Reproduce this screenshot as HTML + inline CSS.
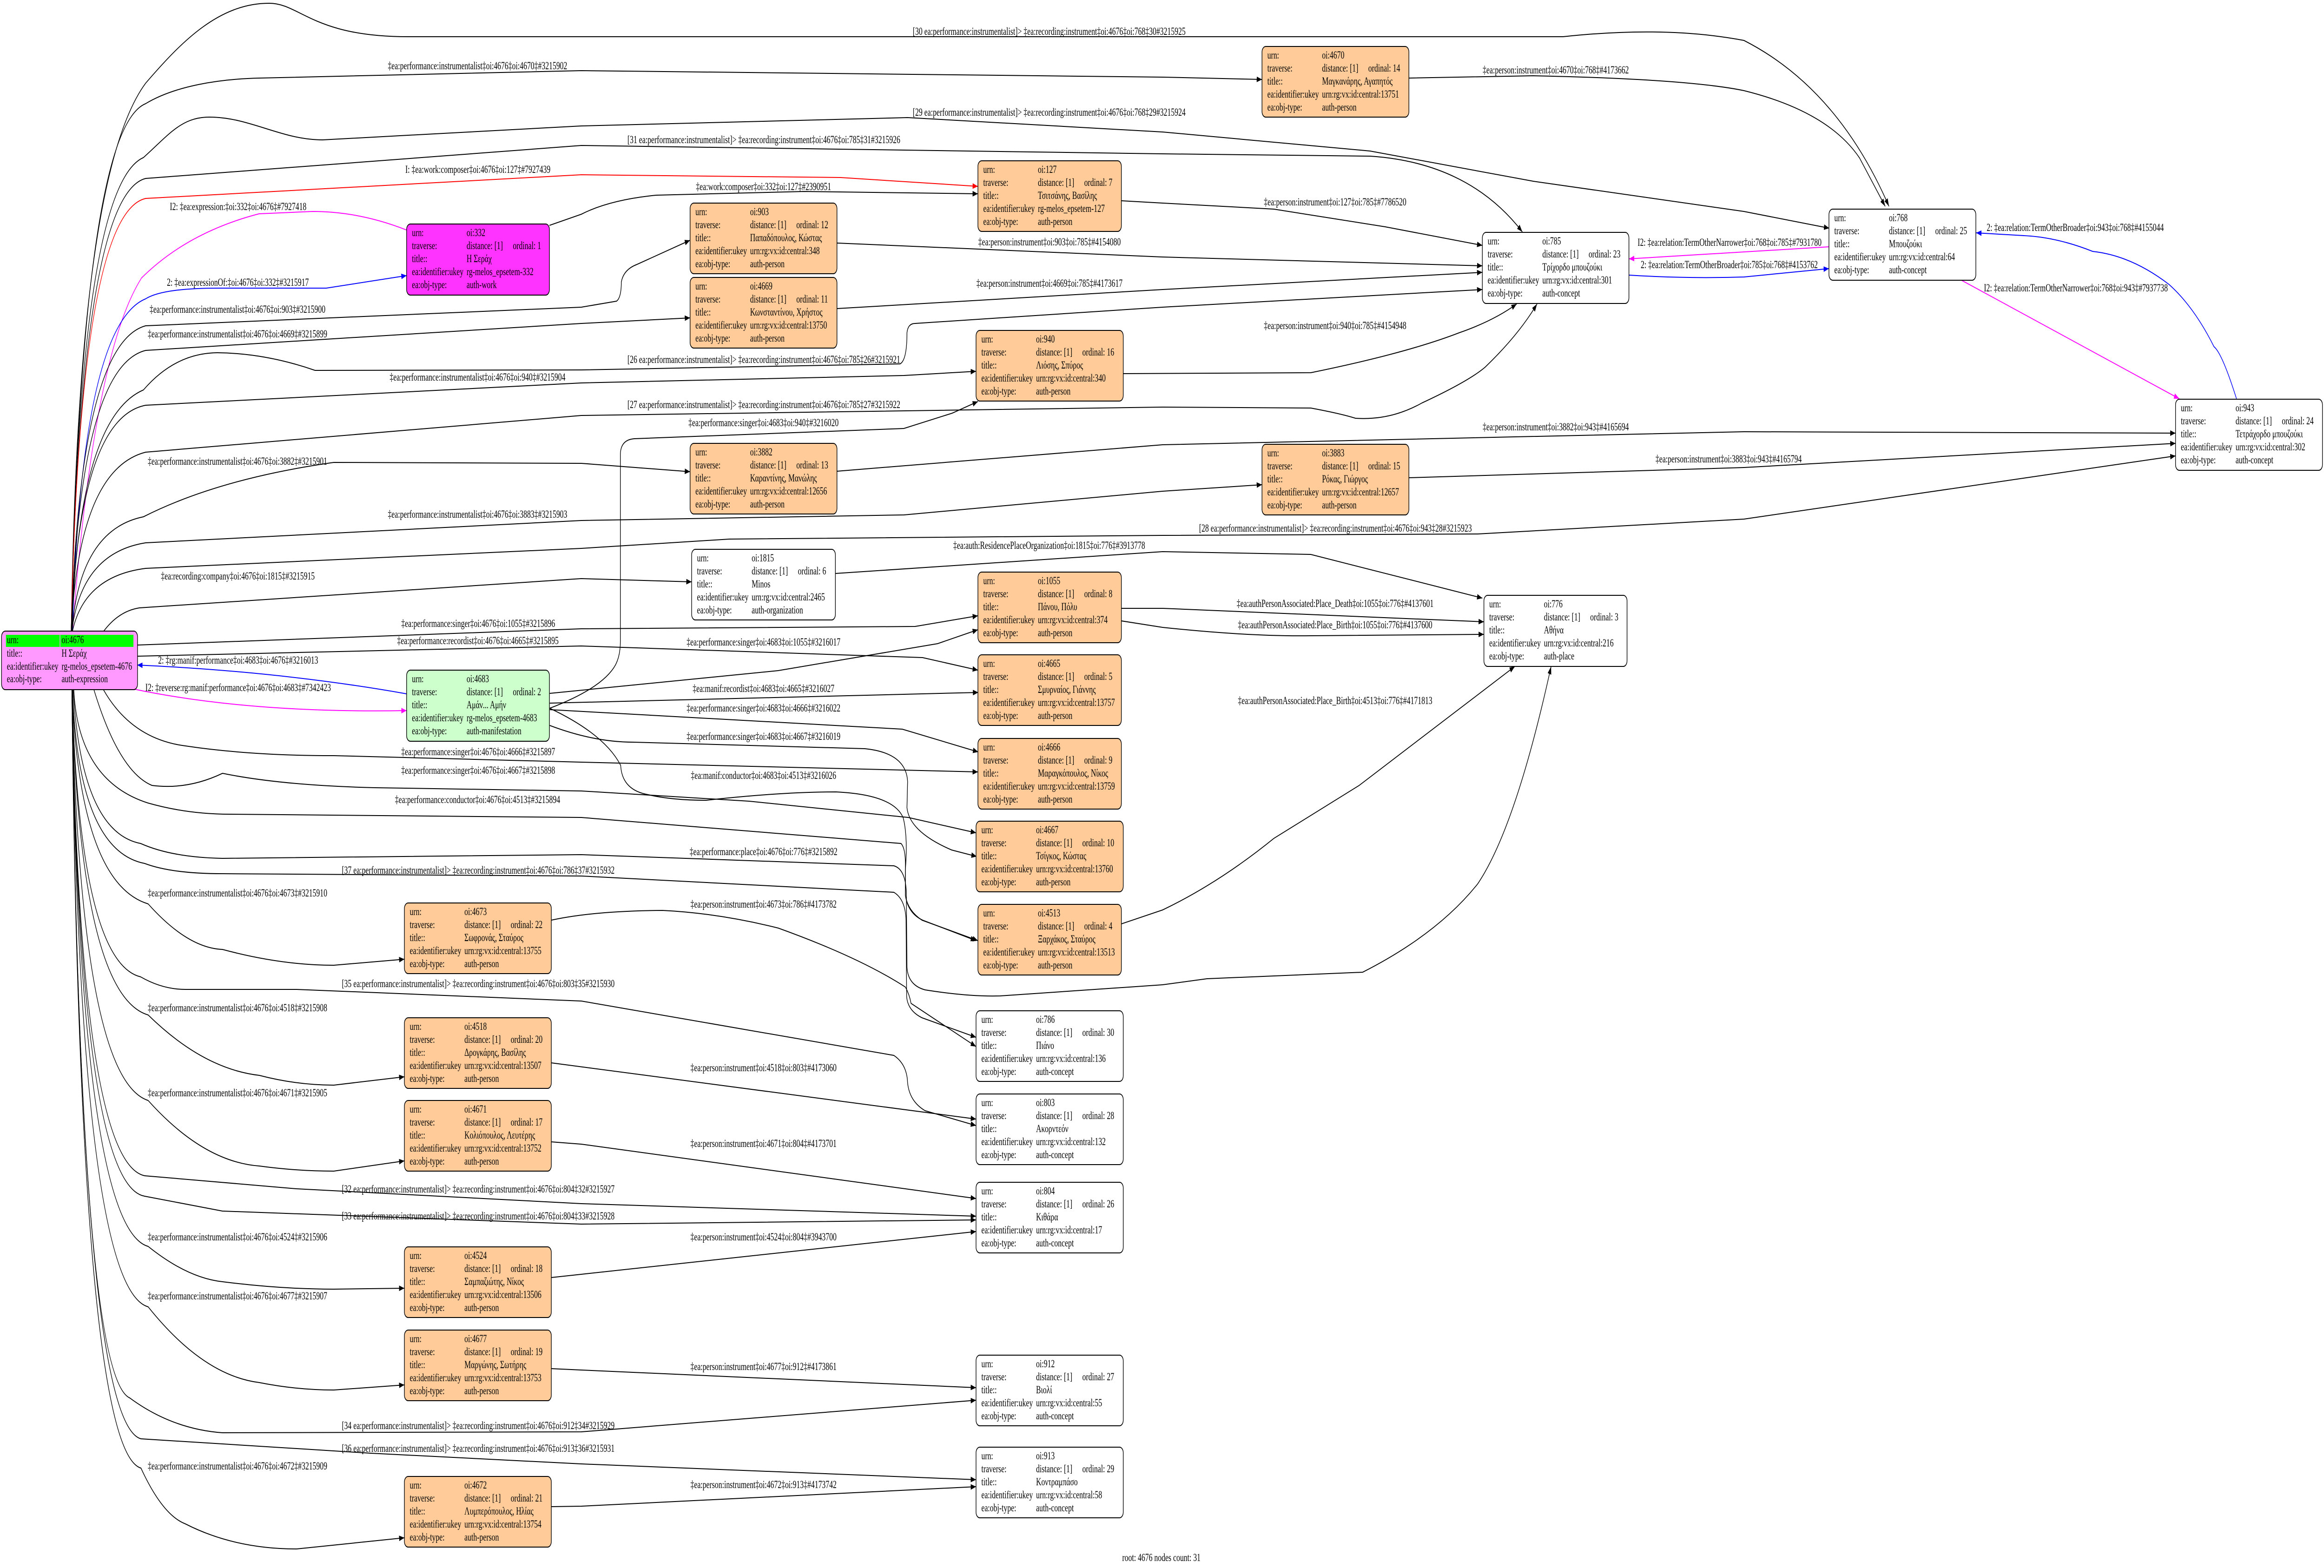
<!DOCTYPE html>
<html><head><meta charset="utf-8"><style>
html,body{margin:0;padding:0;background:#fff;overflow:hidden;width:100%;height:100%;}
svg.root{display:block;width:100vw;height:100vh;overflow:hidden;}
.f{font-family:"Liberation Serif","DejaVu Serif",serif;font-size:23.4px;fill:#000;}
.m{text-anchor:middle;}
.e{fill:none;stroke-width:2;}
.k{stroke:#000;}.r{stroke:#f00;}.b{stroke:#00f;}.g{stroke:#f0f;}
.n{stroke:#000;stroke-width:2;}
</style></head><body>
<svg class="root" viewBox="0 0 7436 3374" preserveAspectRatio="none" xmlns="http://www.w3.org/2000/svg">
<defs>
<marker id="ak" markerUnits="userSpaceOnUse" markerWidth="17" markerHeight="12" refX="17" refY="6" orient="auto"><polygon points="0,0 17,6 0,12" fill="#000"/></marker>
<marker id="ar" markerUnits="userSpaceOnUse" markerWidth="17" markerHeight="12" refX="17" refY="6" orient="auto"><polygon points="0,0 17,6 0,12" fill="#f00"/></marker>
<marker id="ab" markerUnits="userSpaceOnUse" markerWidth="17" markerHeight="12" refX="17" refY="6" orient="auto"><polygon points="0,0 17,6 0,12" fill="#00f"/></marker>
<marker id="ag" markerUnits="userSpaceOnUse" markerWidth="17" markerHeight="12" refX="17" refY="6" orient="auto"><polygon points="0,0 17,6 0,12" fill="#f0f"/></marker>
</defs>
<rect x="0" y="0" width="7436" height="3374" fill="#fff"/>

<!-- EDGES -->
<g>
<path class="e k" marker-end="url(#ak)" d="M228,1358 C240,800 300,330 466,179 C580,90 700,7 861,7 C960,7 1000,79 1305,79 L5001,79 Q5330,55 5580,87 Q5880,190 6044,444"/>
<path class="e k" marker-end="url(#ak)" d="M228,1358 Q262,280 466,223 C560,185 700,170 830,168 L1860,152 L3720,166 L4038,171"/>
<path class="e k" marker-end="url(#ak)" d="M228,1358 Q255,400 459,339 C540,290 580,252 670,252 C800,252 900,301 1032,301 L1860,271 L2904,253 L3720,284 L4384,325 L4906,390 L5580,455 L5853,491"/>
<path class="e k" marker-end="url(#ak)" d="M228,1358 Q258,420 466,384 L1860,313 L3720,331 L4384,336 Q4700,350 4871,499"/>
<path class="e r" marker-end="url(#ar)" d="M228,1358 Q255,460 466,427 L1860,376 L2690,382 L3129,401"/>
<path class="e k" marker-end="url(#ak)" d="M1758,485 L1860,461 Q1950,430 2100,420 L2572,412 L3129,417"/>
<path class="e g" d="M1301,495 Q1150,455 1000,455 L829,460 Q600,500 453,598 Q300,760 232,1358"/>
<path class="e b" marker-end="url(#ab)" d="M232,1358 Q260,700 466,643 Q520,620 700,620 L1044,620 L1301,593"/>
<path class="e k" marker-end="url(#ak)" d="M228,1358 Q255,740 466,701 L1860,661 L1973,648 Q1988,640 1988,607 Q1995,580 2038,569 L2208,517"/>
<path class="e k" marker-end="url(#ak)" d="M228,1358 Q255,790 466,754 L1860,696 L2208,684"/>
<path class="e k" marker-end="url(#ak)" d="M230,1358 Q250,900 459,839 Q560,760 695,759 Q850,760 1008,797 L1860,796 L2880,783 Q2902,775 2902,716 Q2905,696 2928,696 L3720,661 L4743,623"/>
<path class="e k" marker-end="url(#ak)" d="M228,1358 Q252,1010 466,973 L1860,894 L3720,876 L4194,878 Q4290,890 4337,900 Q4450,905 4550,867 Q4700,820 4752,790 Q4860,720 4918,654"/>
<path class="e k" marker-end="url(#ak)" d="M228,1358 Q252,900 466,872 L1860,824 L2892,808 L3123,799"/>
<path class="e k" marker-end="url(#ak)" d="M230,1358 Q255,1140 459,1112 Q700,1030 1068,995 L1860,997 L2208,1015"/>
<path class="e k" marker-end="url(#ak)" d="M230,1358 Q260,1190 466,1168 L1860,1120 L2892,1108 L3720,1057 L4038,1043"/>
<path class="e k" marker-end="url(#ak)" d="M232,1358 Q270,1240 466,1223 L1860,1180 L2334,1160 L3720,1152 L4728,1149 L5580,1117 L6961,981"/>
<path class="e k" marker-end="url(#ak)" d="M332,1358 Q380,1315 446,1308 L1860,1245 L2213,1252"/>
<path class="e k" marker-end="url(#ak)" d="M439,1388 L1860,1353 L2928,1348 L3129,1325"/>
<path class="e k" marker-end="url(#ak)" d="M439,1412 L1860,1390 L2952,1415 L3129,1442"/>
<path class="e b" marker-end="url(#ab)" d="M1301,1493 Q900,1445 439,1431"/>
<path class="e g" marker-end="url(#ag)" d="M430,1483 Q800,1535 1301,1529"/>
<path class="e k" marker-end="url(#ak)" d="M330,1483 Q420,1590 593,1605 Q800,1626 1068,1626 L1860,1640 L3129,1661"/>
<path class="e k" marker-end="url(#ak)" d="M300,1483 Q380,1660 486,1690 Q600,1700 712,1664 Q900,1690 1200,1695 L1860,1702 L2397,1724 L2906,1759 L3123,1792"/>
<path class="e k" marker-end="url(#ak)" d="M236,1483 Q250,1680 474,1728 Q600,1752 735,1752 L1860,1759 L2883,1815 Q2897,1825 2897,1860 L2897,1927 Q2905,1960 2950,1980 L3129,2024"/>
<path class="e k" marker-end="url(#ak)" d="M234,1483 Q260,1790 450,1815 Q550,1845 712,1847 L1860,1839 L2860,1863 Q2897,1870 2900,1920 L2902,2081 Q2905,2120 2960,2130 Q3100,2145 3200,2143 L3720,2119 L3862,2106 L4360,2092 Q4600,2010 4728,1902 Q4850,1780 4963,1434"/>
<path class="e k" marker-end="url(#ak)" d="M232,1483 Q250,1830 463,1858 Q550,1880 712,1880 L1860,1885 L2860,1920 Q2897,1935 2899,1980 L2901,2145 Q2905,2175 2950,2190 L3123,2232"/>
<path class="e k" marker-end="url(#ak)" d="M230,1483 Q255,1900 474,1945 Q600,2040 712,2043 Q900,2077 1068,2077 L1294,2064"/>
<path class="e k" marker-end="url(#ak)" d="M230,1483 Q255,2070 450,2102 Q520,2129 593,2129 L949,2129 L1860,2154 L2860,2271 Q2902,2290 2904,2330 Q2910,2370 2960,2390 L3123,2422"/>
<path class="e k" marker-end="url(#ak)" d="M230,1483 Q255,2140 474,2184 Q650,2300 830,2314 Q950,2335 1068,2335 L1294,2317"/>
<path class="e k" marker-end="url(#ak)" d="M230,1483 Q255,2320 474,2368 Q650,2500 830,2509 Q950,2520 1068,2520 L1294,2498"/>
<path class="e k" marker-end="url(#ak)" d="M230,1483 Q255,2500 463,2530 L949,2558 L1860,2590 L3123,2617"/>
<path class="e k" marker-end="url(#ak)" d="M230,1483 Q255,2550 463,2574 L712,2606 L1860,2634 L3123,2625"/>
<path class="e k" marker-end="url(#ak)" d="M230,1483 Q255,2640 474,2682 Q600,2750 712,2758 Q900,2774 1068,2774 L1294,2772"/>
<path class="e k" marker-end="url(#ak)" d="M230,1483 Q255,2770 474,2812 Q650,2960 830,2975 Q950,2991 1068,2991 L1294,2980"/>
<path class="e k" marker-end="url(#ak)" d="M230,1483 Q255,2960 415,3008 Q550,3075 712,3083 L1860,3081 L3123,3013"/>
<path class="e k" marker-end="url(#ak)" d="M230,1483 Q255,3060 451,3096 L1186,3127 L1860,3150 L3123,3184"/>
<path class="e k" marker-end="url(#ak)" d="M230,1483 Q255,3120 451,3159 Q520,3260 593,3279 Q750,3333 949,3333 L1294,3309"/>
<path class="e k" marker-end="url(#ak)" d="M1759,1524 Q1930,1480 1970,1430 Q1985,1410 1985,1380 L1985,976 Q1987,946 2030,944 L2892,922 L3047,889 L3129,864"/>
<path class="e k" marker-end="url(#ak)" d="M1759,1492 L2490,1443 L3000,1385 L3129,1355"/>
<path class="e k" marker-end="url(#ak)" d="M1759,1513 L3130,1490"/>
<path class="e k" marker-end="url(#ak)" d="M1759,1527 L2887,1569 L3130,1618"/>
<path class="e k" marker-end="url(#ak)" d="M1759,1561 Q1900,1597 2027,1597 L2767,1611 Q2900,1620 2904,1682 L2902,1738 Q2910,1790 3045,1829 L3125,1843"/>
<path class="e k" marker-end="url(#ak)" d="M1759,1524 Q1935,1580 1986,1647 Q1990,1700 2074,1710 Q2150,1722 2259,1722 Q2500,1704 2675,1704 Q2860,1710 2890,1760 Q2905,1800 2897,1871 L2897,1927 Q2905,1965 2952,1980 L3123,2024"/>
<path class="e k" marker-end="url(#ak)" d="M2678,523 L3720,553 L4743,572"/>
<path class="e k" marker-end="url(#ak)" d="M2678,664 L3720,623 L4743,586"/>
<path class="e k" marker-end="url(#ak)" d="M3588,432 L3720,437 L4076,450 L4432,488 L4743,528"/>
<path class="e k" marker-end="url(#ak)" d="M3594,804 L4194,802 Q4500,760 4669,716 Q4780,690 4853,654"/>
<path class="e k" marker-end="url(#ak)" d="M4508,168 L4906,163 Q5400,170 5580,195 Q5850,240 5950,340 L6032,444"/>
<path class="e k" marker-end="url(#ak)" d="M2678,1014 L3720,957 L5580,929 L6961,932"/>
<path class="e k" marker-end="url(#ak)" d="M4508,1028 L5580,1006 L6961,954"/>
<path class="e k" marker-end="url(#ak)" d="M2673,1234 L3720,1187 L4194,1193 L4743,1287"/>
<path class="e k" marker-end="url(#ak)" d="M3588,1309 L3720,1309 L4748,1338"/>
<path class="e k" marker-end="url(#ak)" d="M3588,1336 L3720,1350 Q4000,1370 4194,1368 L4748,1365"/>
<path class="e k" marker-end="url(#ak)" d="M3588,1988 L3720,1958 Q3900,1900 4076,1804 L4349,1690 L4847,1434"/>
<path class="e k" marker-end="url(#ak)" d="M1764,1980 Q1900,1960 2120,1959 Q2300,1965 2490,1997 Q2750,2060 2897,2124 Q2910,2140 2915,2159 L3123,2252"/>
<path class="e k" marker-end="url(#ak)" d="M1764,2287 L3123,2408"/>
<path class="e k" marker-end="url(#ak)" d="M1764,2457 L1860,2462 L3123,2579"/>
<path class="e k" marker-end="url(#ak)" d="M1764,2749 L1860,2742 L3123,2650"/>
<path class="e k" marker-end="url(#ak)" d="M1764,2945 L1860,2948 L3123,2986"/>
<path class="e k" marker-end="url(#ak)" d="M1764,3242 L1860,3241 L3123,3199"/>
<path class="e g" marker-end="url(#ag)" d="M5853,531 L5212,557"/>
<path class="e b" marker-end="url(#ab)" d="M5212,592 Q5400,600 5580,596 L5852,578"/>
<path class="e b" marker-end="url(#ab)" d="M7156,858 Q7110,760 7084,746 Q7020,660 6940,612 Q6820,550 6696,541 Q6580,510 6475,507 L6323,501"/>
<path class="e g" marker-end="url(#ag)" d="M6276,603 L6973,858"/>
</g>

<!-- NODES -->
<g class="f">
<g transform="translate(5,1358)"><rect class="n" width="435" height="126" rx="12" fill="#ff99ff"/>
<rect x="14" y="8" width="172" height="26" fill="#00ff00"/><rect x="188" y="8" width="234" height="26" fill="#00ff00"/>
<text x="17" y="26">urn:</text><text x="192" y="26">oi:4676</text>
<text x="17" y="55">title::</text><text x="192" y="55">Η Σεράχ</text>
<text x="17" y="83">ea:identifier:ukey</text><text x="192" y="83">rg-melos_epsetem-4676</text>
<text x="17" y="110">ea:obj-type:</text><text x="192" y="110">auth-expression</text></g>

<g transform="translate(1301,482)"><rect class="n" width="457" height="153" rx="12" fill="#ff33ff"/>
<text x="17" y="26">urn:</text><text x="192" y="26">oi:332</text>
<text x="17" y="54">traverse:</text><text x="192" y="54">distance: [1]</text><text x="340" y="54">ordinal: 1</text>
<text x="17" y="82">title::</text><text x="192" y="82">Η Σεράχ</text>
<text x="17" y="110">ea:identifier:ukey</text><text x="192" y="110">rg-melos_epsetem-332</text>
<text x="17" y="138">ea:obj-type:</text><text x="192" y="138">auth-work</text></g>

<g transform="translate(1301,1442)"><rect class="n" width="457" height="153" rx="12" fill="#ccffcc"/>
<text x="17" y="26">urn:</text><text x="192" y="26">oi:4683</text>
<text x="17" y="54">traverse:</text><text x="192" y="54">distance: [1]</text><text x="340" y="54">ordinal: 2</text>
<text x="17" y="82">title::</text><text x="192" y="82">Αμάν... Αμήν</text>
<text x="17" y="110">ea:identifier:ukey</text><text x="192" y="110">rg-melos_epsetem-4683</text>
<text x="17" y="138">ea:obj-type:</text><text x="192" y="138">auth-manifestation</text></g>

<g transform="translate(1294,1943)"><rect class="n" width="470" height="152" rx="12" fill="#ffcc99"/>
<text x="17" y="26">urn:</text><text x="192" y="26">oi:4673</text>
<text x="17" y="54">traverse:</text><text x="192" y="54">distance: [1]</text><text x="340" y="54">ordinal: 22</text>
<text x="17" y="82">title::</text><text x="192" y="82">Σωφρονάς, Σταύρος</text>
<text x="17" y="110">ea:identifier:ukey</text><text x="192" y="110">urn:rg:vx:id:central:13755</text>
<text x="17" y="138">ea:obj-type:</text><text x="192" y="138">auth-person</text></g>

<g transform="translate(1294,2190)"><rect class="n" width="470" height="152" rx="12" fill="#ffcc99"/>
<text x="17" y="26">urn:</text><text x="192" y="26">oi:4518</text>
<text x="17" y="54">traverse:</text><text x="192" y="54">distance: [1]</text><text x="340" y="54">ordinal: 20</text>
<text x="17" y="82">title::</text><text x="192" y="82">Δρογκάρης, Βασίλης</text>
<text x="17" y="110">ea:identifier:ukey</text><text x="192" y="110">urn:rg:vx:id:central:13507</text>
<text x="17" y="138">ea:obj-type:</text><text x="192" y="138">auth-person</text></g>

<g transform="translate(1294,2368)"><rect class="n" width="470" height="152" rx="12" fill="#ffcc99"/>
<text x="17" y="26">urn:</text><text x="192" y="26">oi:4671</text>
<text x="17" y="54">traverse:</text><text x="192" y="54">distance: [1]</text><text x="340" y="54">ordinal: 17</text>
<text x="17" y="82">title::</text><text x="192" y="82">Κολιόπουλος, Λευτέρης</text>
<text x="17" y="110">ea:identifier:ukey</text><text x="192" y="110">urn:rg:vx:id:central:13752</text>
<text x="17" y="138">ea:obj-type:</text><text x="192" y="138">auth-person</text></g>

<g transform="translate(1294,2683)"><rect class="n" width="470" height="152" rx="12" fill="#ffcc99"/>
<text x="17" y="26">urn:</text><text x="192" y="26">oi:4524</text>
<text x="17" y="54">traverse:</text><text x="192" y="54">distance: [1]</text><text x="340" y="54">ordinal: 18</text>
<text x="17" y="82">title::</text><text x="192" y="82">Σαμπαζιώτης, Νίκος</text>
<text x="17" y="110">ea:identifier:ukey</text><text x="192" y="110">urn:rg:vx:id:central:13506</text>
<text x="17" y="138">ea:obj-type:</text><text x="192" y="138">auth-person</text></g>

<g transform="translate(1294,2862)"><rect class="n" width="470" height="152" rx="12" fill="#ffcc99"/>
<text x="17" y="26">urn:</text><text x="192" y="26">oi:4677</text>
<text x="17" y="54">traverse:</text><text x="192" y="54">distance: [1]</text><text x="340" y="54">ordinal: 19</text>
<text x="17" y="82">title::</text><text x="192" y="82">Μαργώνης, Σωτήρης</text>
<text x="17" y="110">ea:identifier:ukey</text><text x="192" y="110">urn:rg:vx:id:central:13753</text>
<text x="17" y="138">ea:obj-type:</text><text x="192" y="138">auth-person</text></g>

<g transform="translate(1294,3177)"><rect class="n" width="470" height="152" rx="12" fill="#ffcc99"/>
<text x="17" y="26">urn:</text><text x="192" y="26">oi:4672</text>
<text x="17" y="54">traverse:</text><text x="192" y="54">distance: [1]</text><text x="340" y="54">ordinal: 21</text>
<text x="17" y="82">title::</text><text x="192" y="82">Λυμπερόπουλος, Ηλίας</text>
<text x="17" y="110">ea:identifier:ukey</text><text x="192" y="110">urn:rg:vx:id:central:13754</text>
<text x="17" y="138">ea:obj-type:</text><text x="192" y="138">auth-person</text></g>

<g transform="translate(2208,437)"><rect class="n" width="470" height="152" rx="12" fill="#ffcc99"/>
<text x="17" y="26">urn:</text><text x="192" y="26">oi:903</text>
<text x="17" y="54">traverse:</text><text x="192" y="54">distance: [1]</text><text x="340" y="54">ordinal: 12</text>
<text x="17" y="82">title::</text><text x="192" y="82">Παπαδόπουλος, Κώστας</text>
<text x="17" y="110">ea:identifier:ukey</text><text x="192" y="110">urn:rg:vx:id:central:348</text>
<text x="17" y="138">ea:obj-type:</text><text x="192" y="138">auth-person</text></g>

<g transform="translate(2208,597)"><rect class="n" width="470" height="152" rx="12" fill="#ffcc99"/>
<text x="17" y="26">urn:</text><text x="192" y="26">oi:4669</text>
<text x="17" y="54">traverse:</text><text x="192" y="54">distance: [1]</text><text x="340" y="54">ordinal: 11</text>
<text x="17" y="82">title::</text><text x="192" y="82">Κωνσταντίνου, Χρήστος</text>
<text x="17" y="110">ea:identifier:ukey</text><text x="192" y="110">urn:rg:vx:id:central:13750</text>
<text x="17" y="138">ea:obj-type:</text><text x="192" y="138">auth-person</text></g>

<g transform="translate(2208,954)"><rect class="n" width="470" height="152" rx="12" fill="#ffcc99"/>
<text x="17" y="26">urn:</text><text x="192" y="26">oi:3882</text>
<text x="17" y="54">traverse:</text><text x="192" y="54">distance: [1]</text><text x="340" y="54">ordinal: 13</text>
<text x="17" y="82">title::</text><text x="192" y="82">Καραντίνης, Μανώλης</text>
<text x="17" y="110">ea:identifier:ukey</text><text x="192" y="110">urn:rg:vx:id:central:12656</text>
<text x="17" y="138">ea:obj-type:</text><text x="192" y="138">auth-person</text></g>

<g transform="translate(2213,1182)"><rect class="n" width="460" height="152" rx="12" fill="#ffffff"/>
<text x="17" y="26">urn:</text><text x="192" y="26">oi:1815</text>
<text x="17" y="54">traverse:</text><text x="192" y="54">distance: [1]</text><text x="340" y="54">ordinal: 6</text>
<text x="17" y="82">title::</text><text x="192" y="82">Minos</text>
<text x="17" y="110">ea:identifier:ukey</text><text x="192" y="110">urn:rg:vx:id:central:2465</text>
<text x="17" y="138">ea:obj-type:</text><text x="192" y="138">auth-organization</text></g>

<g transform="translate(3129,346)"><rect class="n" width="459" height="152" rx="12" fill="#ffcc99"/>
<text x="17" y="26">urn:</text><text x="192" y="26">oi:127</text>
<text x="17" y="54">traverse:</text><text x="192" y="54">distance: [1]</text><text x="340" y="54">ordinal: 7</text>
<text x="17" y="82">title::</text><text x="192" y="82">Τσιτσάνης, Βασίλης</text>
<text x="17" y="110">ea:identifier:ukey</text><text x="192" y="110">rg-melos_epsetem-127</text>
<text x="17" y="138">ea:obj-type:</text><text x="192" y="138">auth-person</text></g>

<g transform="translate(3123,711)"><rect class="n" width="471" height="152" rx="12" fill="#ffcc99"/>
<text x="17" y="26">urn:</text><text x="192" y="26">oi:940</text>
<text x="17" y="54">traverse:</text><text x="192" y="54">distance: [1]</text><text x="340" y="54">ordinal: 16</text>
<text x="17" y="82">title::</text><text x="192" y="82">Λιόσης, Σπύρος</text>
<text x="17" y="110">ea:identifier:ukey</text><text x="192" y="110">urn:rg:vx:id:central:340</text>
<text x="17" y="138">ea:obj-type:</text><text x="192" y="138">auth-person</text></g>

<g transform="translate(3129,1231)"><rect class="n" width="459" height="152" rx="12" fill="#ffcc99"/>
<text x="17" y="26">urn:</text><text x="192" y="26">oi:1055</text>
<text x="17" y="54">traverse:</text><text x="192" y="54">distance: [1]</text><text x="340" y="54">ordinal: 8</text>
<text x="17" y="82">title::</text><text x="192" y="82">Πάνου, Πόλυ</text>
<text x="17" y="110">ea:identifier:ukey</text><text x="192" y="110">urn:rg:vx:id:central:374</text>
<text x="17" y="138">ea:obj-type:</text><text x="192" y="138">auth-person</text></g>

<g transform="translate(3129,1409)"><rect class="n" width="459" height="152" rx="12" fill="#ffcc99"/>
<text x="17" y="26">urn:</text><text x="192" y="26">oi:4665</text>
<text x="17" y="54">traverse:</text><text x="192" y="54">distance: [1]</text><text x="340" y="54">ordinal: 5</text>
<text x="17" y="82">title::</text><text x="192" y="82">Σμυρναίος, Γιάννης</text>
<text x="17" y="110">ea:identifier:ukey</text><text x="192" y="110">urn:rg:vx:id:central:13757</text>
<text x="17" y="138">ea:obj-type:</text><text x="192" y="138">auth-person</text></g>

<g transform="translate(3129,1589)"><rect class="n" width="459" height="152" rx="12" fill="#ffcc99"/>
<text x="17" y="26">urn:</text><text x="192" y="26">oi:4666</text>
<text x="17" y="54">traverse:</text><text x="192" y="54">distance: [1]</text><text x="340" y="54">ordinal: 9</text>
<text x="17" y="82">title::</text><text x="192" y="82">Μαραγκόπουλος, Νίκος</text>
<text x="17" y="110">ea:identifier:ukey</text><text x="192" y="110">urn:rg:vx:id:central:13759</text>
<text x="17" y="138">ea:obj-type:</text><text x="192" y="138">auth-person</text></g>

<g transform="translate(3123,1767)"><rect class="n" width="471" height="152" rx="12" fill="#ffcc99"/>
<text x="17" y="26">urn:</text><text x="192" y="26">oi:4667</text>
<text x="17" y="54">traverse:</text><text x="192" y="54">distance: [1]</text><text x="340" y="54">ordinal: 10</text>
<text x="17" y="82">title::</text><text x="192" y="82">Τσίγκος, Κώστας</text>
<text x="17" y="110">ea:identifier:ukey</text><text x="192" y="110">urn:rg:vx:id:central:13760</text>
<text x="17" y="138">ea:obj-type:</text><text x="192" y="138">auth-person</text></g>

<g transform="translate(3129,1946)"><rect class="n" width="459" height="152" rx="12" fill="#ffcc99"/>
<text x="17" y="26">urn:</text><text x="192" y="26">oi:4513</text>
<text x="17" y="54">traverse:</text><text x="192" y="54">distance: [1]</text><text x="340" y="54">ordinal: 4</text>
<text x="17" y="82">title::</text><text x="192" y="82">Ξαρχάκος, Σταύρος</text>
<text x="17" y="110">ea:identifier:ukey</text><text x="192" y="110">urn:rg:vx:id:central:13513</text>
<text x="17" y="138">ea:obj-type:</text><text x="192" y="138">auth-person</text></g>

<g transform="translate(3123,2175)"><rect class="n" width="471" height="152" rx="12" fill="#ffffff"/>
<text x="17" y="26">urn:</text><text x="192" y="26">oi:786</text>
<text x="17" y="54">traverse:</text><text x="192" y="54">distance: [1]</text><text x="340" y="54">ordinal: 30</text>
<text x="17" y="82">title::</text><text x="192" y="82">Πιάνο</text>
<text x="17" y="110">ea:identifier:ukey</text><text x="192" y="110">urn:rg:vx:id:central:136</text>
<text x="17" y="138">ea:obj-type:</text><text x="192" y="138">auth-concept</text></g>

<g transform="translate(3123,2354)"><rect class="n" width="471" height="152" rx="12" fill="#ffffff"/>
<text x="17" y="26">urn:</text><text x="192" y="26">oi:803</text>
<text x="17" y="54">traverse:</text><text x="192" y="54">distance: [1]</text><text x="340" y="54">ordinal: 28</text>
<text x="17" y="82">title::</text><text x="192" y="82">Ακορντεόν</text>
<text x="17" y="110">ea:identifier:ukey</text><text x="192" y="110">urn:rg:vx:id:central:132</text>
<text x="17" y="138">ea:obj-type:</text><text x="192" y="138">auth-concept</text></g>

<g transform="translate(3123,2544)"><rect class="n" width="471" height="152" rx="12" fill="#ffffff"/>
<text x="17" y="26">urn:</text><text x="192" y="26">oi:804</text>
<text x="17" y="54">traverse:</text><text x="192" y="54">distance: [1]</text><text x="340" y="54">ordinal: 26</text>
<text x="17" y="82">title::</text><text x="192" y="82">Κιθάρα</text>
<text x="17" y="110">ea:identifier:ukey</text><text x="192" y="110">urn:rg:vx:id:central:17</text>
<text x="17" y="138">ea:obj-type:</text><text x="192" y="138">auth-concept</text></g>

<g transform="translate(3123,2916)"><rect class="n" width="471" height="152" rx="12" fill="#ffffff"/>
<text x="17" y="26">urn:</text><text x="192" y="26">oi:912</text>
<text x="17" y="54">traverse:</text><text x="192" y="54">distance: [1]</text><text x="340" y="54">ordinal: 27</text>
<text x="17" y="82">title::</text><text x="192" y="82">Βιολί</text>
<text x="17" y="110">ea:identifier:ukey</text><text x="192" y="110">urn:rg:vx:id:central:55</text>
<text x="17" y="138">ea:obj-type:</text><text x="192" y="138">auth-concept</text></g>

<g transform="translate(3123,3114)"><rect class="n" width="471" height="152" rx="12" fill="#ffffff"/>
<text x="17" y="26">urn:</text><text x="192" y="26">oi:913</text>
<text x="17" y="54">traverse:</text><text x="192" y="54">distance: [1]</text><text x="340" y="54">ordinal: 29</text>
<text x="17" y="82">title::</text><text x="192" y="82">Κοντραμπάσο</text>
<text x="17" y="110">ea:identifier:ukey</text><text x="192" y="110">urn:rg:vx:id:central:58</text>
<text x="17" y="138">ea:obj-type:</text><text x="192" y="138">auth-concept</text></g>

<g transform="translate(4038,100)"><rect class="n" width="470" height="152" rx="12" fill="#ffcc99"/>
<text x="17" y="26">urn:</text><text x="192" y="26">oi:4670</text>
<text x="17" y="54">traverse:</text><text x="192" y="54">distance: [1]</text><text x="340" y="54">ordinal: 14</text>
<text x="17" y="82">title::</text><text x="192" y="82">Μαγκανάρης, Αγαπητός</text>
<text x="17" y="110">ea:identifier:ukey</text><text x="192" y="110">urn:rg:vx:id:central:13751</text>
<text x="17" y="138">ea:obj-type:</text><text x="192" y="138">auth-person</text></g>

<g transform="translate(4038,956)"><rect class="n" width="470" height="152" rx="12" fill="#ffcc99"/>
<text x="17" y="26">urn:</text><text x="192" y="26">oi:3883</text>
<text x="17" y="54">traverse:</text><text x="192" y="54">distance: [1]</text><text x="340" y="54">ordinal: 15</text>
<text x="17" y="82">title::</text><text x="192" y="82">Ρόκας, Γιώργος</text>
<text x="17" y="110">ea:identifier:ukey</text><text x="192" y="110">urn:rg:vx:id:central:12657</text>
<text x="17" y="138">ea:obj-type:</text><text x="192" y="138">auth-person</text></g>

<g transform="translate(4743,500)"><rect class="n" width="469" height="153" rx="12" fill="#ffffff"/>
<text x="17" y="26">urn:</text><text x="192" y="26">oi:785</text>
<text x="17" y="54">traverse:</text><text x="192" y="54">distance: [1]</text><text x="340" y="54">ordinal: 23</text>
<text x="17" y="82">title::</text><text x="192" y="82">Τρίχορδο μπουζούκι</text>
<text x="17" y="110">ea:identifier:ukey</text><text x="192" y="110">urn:rg:vx:id:central:301</text>
<text x="17" y="138">ea:obj-type:</text><text x="192" y="138">auth-concept</text></g>

<g transform="translate(4748,1281)"><rect class="n" width="458" height="153" rx="12" fill="#ffffff"/>
<text x="17" y="26">urn:</text><text x="192" y="26">oi:776</text>
<text x="17" y="54">traverse:</text><text x="192" y="54">distance: [1]</text><text x="340" y="54">ordinal: 3</text>
<text x="17" y="82">title::</text><text x="192" y="82">Αθήνα</text>
<text x="17" y="110">ea:identifier:ukey</text><text x="192" y="110">urn:rg:vx:id:central:216</text>
<text x="17" y="138">ea:obj-type:</text><text x="192" y="138">auth-place</text></g>

<g transform="translate(5852,450)"><rect class="n" width="470" height="153" rx="12" fill="#ffffff"/>
<text x="17" y="26">urn:</text><text x="192" y="26">oi:768</text>
<text x="17" y="54">traverse:</text><text x="192" y="54">distance: [1]</text><text x="340" y="54">ordinal: 25</text>
<text x="17" y="82">title::</text><text x="192" y="82">Μπουζούκι</text>
<text x="17" y="110">ea:identifier:ukey</text><text x="192" y="110">urn:rg:vx:id:central:64</text>
<text x="17" y="138">ea:obj-type:</text><text x="192" y="138">auth-concept</text></g>

<g transform="translate(6961,859)"><rect class="n" width="470" height="153" rx="12" fill="#ffffff"/>
<text x="17" y="26">urn:</text><text x="192" y="26">oi:943</text>
<text x="17" y="54">traverse:</text><text x="192" y="54">distance: [1]</text><text x="340" y="54">ordinal: 24</text>
<text x="17" y="82">title::</text><text x="192" y="82">Τετράχορδο μπουζούκι</text>
<text x="17" y="110">ea:identifier:ukey</text><text x="192" y="110">urn:rg:vx:id:central:302</text>
<text x="17" y="138">ea:obj-type:</text><text x="192" y="138">auth-concept</text></g>
</g>

<!-- EDGE LABELS -->
<g class="f m">
<text x="3357" y="75">[30 ea:performance:instrumentalist]&gt; ‡ea:recording:instrument‡oi:4676‡oi:768‡30#3215925</text>
<text x="1528" y="149">‡ea:performance:instrumentalist‡oi:4676‡oi:4670‡#3215902</text>
<text x="3357" y="249">[29 ea:performance:instrumentalist]&gt; ‡ea:recording:instrument‡oi:4676‡oi:768‡29#3215924</text>
<text x="2444" y="308">[31 ea:performance:instrumentalist]&gt; ‡ea:recording:instrument‡oi:4676‡oi:785‡31#3215926</text>
<text x="1529" y="372">I: ‡ea:work:composer‡oi:4676‡oi:127‡#7927439</text>
<text x="2443" y="409">‡ea:work:composer‡oi:332‡oi:127‡#2390951</text>
<text x="762" y="452">I2: ‡ea:expression:‡oi:332‡oi:4676‡#7927418</text>
<text x="761" y="615">2: ‡ea:expressionOf:‡oi:4676‡oi:332‡#3215917</text>
<text x="760" y="673">‡ea:performance:instrumentalist‡oi:4676‡oi:903‡#3215900</text>
<text x="760" y="726">‡ea:performance:instrumentalist‡oi:4676‡oi:4669‡#3215899</text>
<text x="1528" y="819">‡ea:performance:instrumentalist‡oi:4676‡oi:940‡#3215904</text>
<text x="760" y="1000">‡ea:performance:instrumentalist‡oi:4676‡oi:3882‡#3215901</text>
<text x="1528" y="1114">‡ea:performance:instrumentalist‡oi:4676‡oi:3883‡#3215903</text>
<text x="761" y="1247">‡ea:recording:company‡oi:4676‡oi:1815‡#3215915</text>
<text x="1530" y="1349">‡ea:performance:singer‡oi:4676‡oi:1055‡#3215896</text>
<text x="1529" y="1386">‡ea:performance:recordist‡oi:4676‡oi:4665‡#3215895</text>
<text x="762" y="1428">2: ‡rg:manif:performance‡oi:4683‡oi:4676‡#3216013</text>
<text x="762" y="1487">I2: ‡reverse:rg:manif:performance‡oi:4676‡oi:4683‡#7342423</text>
<text x="1530" y="1625">‡ea:performance:singer‡oi:4676‡oi:4666‡#3215897</text>
<text x="1530" y="1665">‡ea:performance:singer‡oi:4676‡oi:4667‡#3215898</text>
<text x="2444" y="781">[26 ea:performance:instrumentalist]&gt; ‡ea:recording:instrument‡oi:4676‡oi:785‡26#3215921</text>
<text x="2444" y="878">[27 ea:performance:instrumentalist]&gt; ‡ea:recording:instrument‡oi:4676‡oi:785‡27#3215922</text>
<text x="3358" y="528">‡ea:person:instrument‡oi:903‡oi:785‡#4154080</text>
<text x="3358" y="617">‡ea:person:instrument‡oi:4669‡oi:785‡#4173617</text>
<text x="2443" y="917">‡ea:performance:singer‡oi:4683‡oi:940‡#3216020</text>
<text x="3357" y="1181">‡ea:auth:ResidencePlaceOrganization‡oi:1815‡oi:776‡#3913778</text>
<text x="2443" y="1389">‡ea:performance:singer‡oi:4683‡oi:1055‡#3216017</text>
<text x="2443" y="1489">‡ea:manif:recordist‡oi:4683‡oi:4665‡#3216027</text>
<text x="2443" y="1531">‡ea:performance:singer‡oi:4683‡oi:4666‡#3216022</text>
<text x="2443" y="1592">‡ea:performance:singer‡oi:4683‡oi:4667‡#3216019</text>
<text x="2443" y="1676">‡ea:manif:conductor‡oi:4683‡oi:4513‡#3216026</text>
<text x="4978" y="158">‡ea:person:instrument‡oi:4670‡oi:768‡#4173662</text>
<text x="4272" y="442">‡ea:person:instrument‡oi:127‡oi:785‡#7786520</text>
<text x="4272" y="708">‡ea:person:instrument‡oi:940‡oi:785‡#4154948</text>
<text x="4978" y="926">‡ea:person:instrument‡oi:3882‡oi:943‡#4165694</text>
<text x="5531" y="995">‡ea:person:instrument‡oi:3883‡oi:943‡#4165794</text>
<text x="4273" y="1144">[28 ea:performance:instrumentalist]&gt; ‡ea:recording:instrument‡oi:4676‡oi:943‡28#3215923</text>
<text x="4272" y="1306">‡ea:authPersonAssociated:Place_Death‡oi:1055‡oi:776‡#4137601</text>
<text x="4272" y="1352">‡ea:authPersonAssociated:Place_Birth‡oi:1055‡oi:776‡#4137600</text>
<text x="4272" y="1515">‡ea:authPersonAssociated:Place_Birth‡oi:4513‡oi:776‡#4171813</text>
<text x="5534" y="529">I2: ‡ea:relation:TermOtherNarrower‡oi:768‡oi:785‡#7931780</text>
<text x="5533" y="577">2: ‡ea:relation:TermOtherBroader‡oi:785‡oi:768‡#4153762</text>
<text x="6640" y="497">2: ‡ea:relation:TermOtherBroader‡oi:943‡oi:768‡#4155044</text>
<text x="6642" y="627">I2: ‡ea:relation:TermOtherNarrower‡oi:768‡oi:943‡#7937738</text>
<text x="1528" y="1728">‡ea:performance:conductor‡oi:4676‡oi:4513‡#3215894</text>
<text x="1530" y="1880">[37 ea:performance:instrumentalist]&gt; ‡ea:recording:instrument‡oi:4676‡oi:786‡37#3215932</text>
<text x="760" y="1929">‡ea:performance:instrumentalist‡oi:4676‡oi:4673‡#3215910</text>
<text x="1530" y="2124">[35 ea:performance:instrumentalist]&gt; ‡ea:recording:instrument‡oi:4676‡oi:803‡35#3215930</text>
<text x="760" y="2176">‡ea:performance:instrumentalist‡oi:4676‡oi:4518‡#3215908</text>
<text x="760" y="2359">‡ea:performance:instrumentalist‡oi:4676‡oi:4671‡#3215905</text>
<text x="1530" y="2566">[32 ea:performance:instrumentalist]&gt; ‡ea:recording:instrument‡oi:4676‡oi:804‡32#3215927</text>
<text x="1530" y="2624">[33 ea:performance:instrumentalist]&gt; ‡ea:recording:instrument‡oi:4676‡oi:804‡33#3215928</text>
<text x="760" y="2669">‡ea:performance:instrumentalist‡oi:4676‡oi:4524‡#3215906</text>
<text x="760" y="2796">‡ea:performance:instrumentalist‡oi:4676‡oi:4677‡#3215907</text>
<text x="1530" y="3075">[34 ea:performance:instrumentalist]&gt; ‡ea:recording:instrument‡oi:4676‡oi:912‡34#3215929</text>
<text x="1530" y="3124">[36 ea:performance:instrumentalist]&gt; ‡ea:recording:instrument‡oi:4676‡oi:913‡36#3215931</text>
<text x="760" y="3162">‡ea:performance:instrumentalist‡oi:4676‡oi:4672‡#3215909</text>
<text x="2443" y="1840">‡ea:performance:place‡oi:4676‡oi:776‡#3215892</text>
<text x="2443" y="1953">‡ea:person:instrument‡oi:4673‡oi:786‡#4173782</text>
<text x="2443" y="2305">‡ea:person:instrument‡oi:4518‡oi:803‡#4173060</text>
<text x="2443" y="2468">‡ea:person:instrument‡oi:4671‡oi:804‡#4173701</text>
<text x="2443" y="2669">‡ea:person:instrument‡oi:4524‡oi:804‡#3943700</text>
<text x="2443" y="2948">‡ea:person:instrument‡oi:4677‡oi:912‡#4173861</text>
<text x="2443" y="3202">‡ea:person:instrument‡oi:4672‡oi:913‡#4173742</text>
<text x="3716" y="3359">root: 4676 nodes count: 31</text>
</g>
</svg>
</body></html>
